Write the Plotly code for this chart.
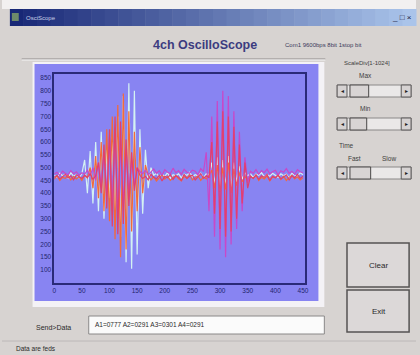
import plotly.graph_objects as go

# ---------------- data ----------------
t = [0, 5, 10, 15, 20, 25, 30, 35, 40, 45, 50, 55, 60, 65, 70, 75, 80, 85, 90, 95,
     100, 105, 110, 115, 120, 125, 130, 135, 140, 145, 150, 155, 160, 165, 170, 175,
     180, 185, 190, 195, 200, 205, 210, 215, 220, 225, 230, 235, 240, 245, 250, 255,
     260, 265, 270, 275, 280, 285, 290, 295, 300, 305, 310, 315, 320, 325, 330, 335,
     340, 345, 350, 355, 360, 365, 370, 375, 380, 385, 390, 395, 400, 405, 410, 415,
     420, 425, 430, 435, 440, 445, 450]

ch1 = [470, 462, 478, 468, 474, 458, 480, 466, 472, 460, 476,
       530, 400, 565, 360, 600, 330, 640, 300, 570, 380, 620, 290, 700, 230, 780, 130,
       830, 105, 800, 160, 650, 320, 570, 420, 500,
       470, 478, 462, 474, 466, 480, 458, 472, 468, 476, 460, 474, 470, 482, 464, 472,
       468, 478, 460, 476, 470,
       520, 430, 540, 410, 530, 420, 545, 415, 520, 440, 505, 455, 480,
       468, 476, 462, 474, 470, 480, 464, 472, 466, 478, 470, 462, 476, 468, 474, 460,
       478, 470, 466, 480, 472]

ch2 = [455, 468, 450, 462, 458, 470, 452, 466, 456, 464, 450, 470, 460,
       500, 420, 545, 380, 600, 330, 650, 290, 700, 220, 745, 150, 790, 180, 720, 250,
       640, 330, 580, 400, 510,
       470, 452, 464, 448, 460, 472, 455, 466, 450, 462, 470, 456, 448, 466, 458, 472,
       452, 460, 468, 450, 464, 456, 470,
       490, 420, 510, 405, 500, 415, 520, 400, 495, 430, 480, 445, 465,
       452, 466, 458, 470, 450, 462, 456, 468, 448, 464, 460, 472, 454, 466, 450, 462,
       470, 456, 464, 452, 460]

ch3 = [475, 482, 470, 486, 478, 472, 488, 476, 484, 470, 480, 474, 490, 468, 500, 450,
       520, 430,
       560, 390, 620, 330, 660, 300, 610, 350, 570, 400, 530, 430, 500,
       485, 476, 490, 472, 484, 495, 478, 488, 470, 492, 482, 476, 498, 480, 488, 474,
       494, 482, 478, 490, 486, 472, 496, 484,
       560, 330, 700, 230, 760, 180, 800, 150, 780, 200, 720, 260, 640, 330, 540, 440,
       486, 478, 492, 474, 488, 480, 494, 476, 484, 490, 472, 488, 482, 496, 478, 486,
       474, 492, 484, 480]

ch4 = [462, 470, 456, 466, 474, 460, 468, 452, 472, 464, 458, 470, 462, 476, 454, 468,
       520, 400, 590, 340, 650, 270, 700, 240, 680, 280, 610, 350, 560, 410, 500,
       470, 458, 466, 452, 474, 462, 456, 470, 448, 466, 460, 472, 454, 468, 462, 450,
       474, 458, 466, 470, 452, 464, 476, 458, 468, 460,
       600, 320, 680, 260, 720, 230, 700, 250, 660, 300, 590, 360, 520, 420,
       466, 458, 472, 454, 468, 462, 474, 450, 466, 460, 470, 456, 464, 472, 452, 468,
       460, 474, 458, 466]

channel_names = ["A1", "A2", "A3", "A4"]
channel_colors = ["#d4f2f2", "#f26a3a", "#c848c8", "#e0406e"]

x_ticks = [0, 50, 100, 150, 200, 250, 300, 350, 400, 450]
y_ticks = [100, 150, 200, 250, 300, 350, 400, 450, 500, 550, 600, 650, 700, 750, 800, 850]

title_text = "4ch OscilloScope"
port_text = "Com1 9600bps 8bit 1stop bit"
send_text = "A1=0777 A2=0291 A3=0301 A4=0291"

# ---------------- figure ----------------
W, H = 420, 355


def X(px):
    return px / W


def Y(py):
    return 1 - py / H


fig = go.Figure()
for name, ys, col in zip(channel_names, [ch1, ch2, ch3, ch4], channel_colors):
    fig.add_trace(go.Scatter(x=t, y=ys, mode="lines", name=name,
                             line=dict(color=col, width=1.2), showlegend=False))

shapes = []


def rect(x0, y0, x1, y1, fill, line=None, lw=1):
    shapes.append(dict(type="rect", xref="paper", yref="paper", layer="below",
                       x0=X(x0), x1=X(x1), y0=Y(y1), y1=Y(y0), fillcolor=fill,
                       line=dict(color=line or fill, width=lw if line else 0)))


def hline(x0, x1, py, color, lw=1):
    shapes.append(dict(type="line", xref="paper", yref="paper", layer="below",
                       x0=X(x0), x1=X(x1), y0=Y(py), y1=Y(py), line=dict(color=color, width=lw)))


# top strip and title bar gradient
rect(0, 0, 420, 9, "#f2f0f0")
c0 = (24, 40, 118)
c1 = (170, 196, 234)
n = 30
for i in range(n):
    f = i / (n - 1)
    col = "rgb(%d,%d,%d)" % tuple(int(c0[k] + (c1[k] - c0[k]) * f) for k in range(3))
    xa = 8 + (412 * i / n)
    xb = 8 + (412 * (i + 1) / n) + 0.5
    rect(xa, 9, xb, 26, col)
rect(10, 13, 17, 21, "#6e8a6a")

# separator under header
hline(20, 328, 59, "#8e8a8a")
hline(20, 328, 60, "#f6f6f6")

# scope panel
rect(31, 62, 327, 307, "#f4f2f6")
rect(33, 64, 321, 301, "#8884f2")

# scrollbars
def scrollbar(py0, py1, th0, th1):
    rect(340, py0, 415, py1, "#eae8e8", "#8a8888", 1)
    rect(340, py0, 350, py1, "#d6d2d2", "#5a5858", 1)
    rect(405, py0, 415, py1, "#d6d2d2", "#5a5858", 1)
    rect(th0, py0, th1, py1, "#d8d4d4", "#4a4848", 1)


scrollbar(85, 97, 353, 372)
scrollbar(118, 130, 353, 370)
scrollbar(167, 179, 353, 374)

# buttons
rect(350, 243, 413, 287, "#dcd8d8", "#555353", 1.5)
rect(350, 290, 413, 332, "#dcd8d8", "#555353", 1.5)

# send text box
rect(88, 316, 327, 334, "#fbfbfb", "#8a8888", 1)

# status bar
hline(0, 420, 341, "#bcb8b8")

ann = []


def text(px, py, s, size=7, color="#333333", anchor="center", bold=False, family="Liberation Sans"):
    ann.append(dict(xref="paper", yref="paper", x=X(px), y=Y(py), text=("<b>%s</b>" % s) if bold else s,
                    showarrow=False, xanchor=anchor, yanchor="middle",
                    font=dict(size=size, color=color, family=family)))


text(22, 17.5, "OsciScope", 6, "#c8d0e8", "left")
text(418, 17.5, "_ □ ×", 8, "#1a1a3a", "right")
text(206, 45, title_text, 12.5, "#3c3c80", "center", bold=True)
text(285, 45, port_text, 6, "#3a3a5a", "left")

text(370, 63, "ScaleDiv[1-1024]", 6, "#404040")
text(369, 76, "Max", 6.5, "#404040")
text(369, 108, "Min", 6.5, "#404040")
text(340, 145, "Time", 6.5, "#404040", "left")
text(358, 158, "Fast", 6.5, "#404040")
text(393, 158, "Slow", 6.5, "#404040")
for py in (91, 124, 173):
    text(345, py, "◂", 6, "#222222")
    text(410, py, "▸", 6, "#222222")

text(382, 265, "Clear", 8, "#2a2a2a")
text(382, 311, "Exit", 8, "#2a2a2a")
text(52, 327, "Send>Data", 7, "#2a2a2a")
text(92, 324, send_text, 6.5, "#2a2a2a", "left")
text(12, 348, "Data are feds", 6.5, "#2a2a2a", "left")

fig.update_layout(
    width=W, height=H, autosize=False,
    margin=dict(l=0, r=0, t=0, b=0),
    paper_bgcolor="#d7d3d1",
    plot_bgcolor="#8884f2",
    shapes=shapes,
    annotations=ann,
    xaxis=dict(domain=[X(53), X(307)], range=[0, 453], tickvals=x_ticks,
               showgrid=False, zeroline=False, showline=True, mirror=True,
               linecolor="#2a2a78", linewidth=1.5, ticks="",
               tickfont=dict(size=6.5, color="#24246e", family="Liberation Sans")),
    yaxis=dict(domain=[Y(283), Y(74)], range=[49, 866], tickvals=y_ticks,
               showgrid=False, zeroline=False, showline=True, mirror=True,
               linecolor="#2a2a78", linewidth=1.5, ticks="",
               tickfont=dict(size=6.5, color="#24246e", family="Liberation Sans")),
)

fig.write_html("out.html",
               config={"displayModeBar": False},
               post_script="document.body.style.margin='0';document.body.style.padding='0';"
                           "document.body.style.overflow='hidden';")
